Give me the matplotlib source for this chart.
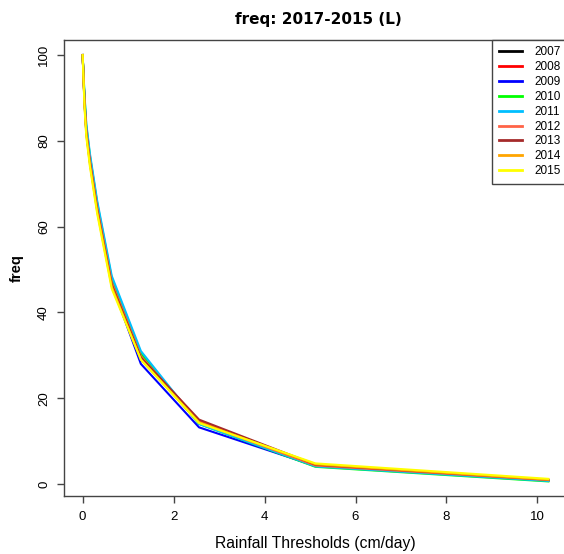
import matplotlib
matplotlib.use('Agg')
import matplotlib.pyplot as plt

# Rainfall thresholds (cm/day)
thresholds = [0, 0.04, 0.08, 0.16, 0.32, 0.64, 1.28, 2.56, 5.12, 10.24]

# freq per year
freq_2007 = [100, 89.5, 82.5, 75.5, 64.5, 47.0, 29.5, 14.2, 4.4, 0.9]
freq_2008 = [100, 89.5, 82.5, 75.5, 64.5, 47.0, 30.0, 14.6, 4.3, 0.8]
freq_2009 = [100, 89.0, 82.0, 75.0, 64.0, 46.5, 28.0, 13.2, 4.2, 0.8]
freq_2010 = [100, 90.5, 83.5, 76.5, 65.5, 48.0, 30.5, 14.0, 4.0, 0.6]
freq_2011 = [100, 91.0, 84.0, 77.0, 66.0, 48.5, 31.0, 14.0, 4.1, 0.7]
freq_2012 = [100, 89.5, 82.5, 75.5, 64.5, 47.0, 29.8, 14.4, 4.3, 0.9]
freq_2013 = [100, 89.0, 82.0, 75.0, 64.0, 46.5, 29.5, 15.0, 4.5, 1.0]
freq_2014 = [100, 88.5, 81.5, 74.5, 63.5, 46.0, 29.0, 14.4, 4.6, 1.0]
freq_2015 = [100, 88.0, 81.0, 74.0, 63.0, 45.5, 29.0, 14.2, 4.8, 1.2]

years = ['2007', '2008', '2009', '2010', '2011', '2012', '2013', '2014', '2015']
series = [freq_2007, freq_2008, freq_2009, freq_2010, freq_2011,
          freq_2012, freq_2013, freq_2014, freq_2015]
colors = ['black', 'red', 'blue', '#00ff00', '#00bfff',
          '#ff6347', '#a52a2a', '#ffa500', '#ffff00']

plt.rcParams['font.family'] = ['Liberation Sans', 'DejaVu Sans']

fig = plt.figure(figsize=(5.64, 5.54), dpi=100)
ax = fig.add_axes([64 / 564, 58 / 554, 503 / 564, 456 / 554])

for year, vals, c in zip(years, series, colors):
    ax.plot(thresholds, vals, color=c, lw=1.5, label=year)

ax.set_xlim(-0.41, 10.65)
ax.set_ylim(-2.8, 103.5)
ax.set_xticks([0, 2, 4, 6, 8, 10])
ax.set_yticks([0, 20, 40, 60, 80, 100])
ax.tick_params(axis='both', length=5, width=1, color='#444444', labelsize=9.5)
ax.tick_params(axis='x', pad=6)
ax.tick_params(axis='y', pad=5)
for lab in ax.get_yticklabels():
    lab.set_rotation(90)
    lab.set_va('center')
for sp in ax.spines.values():
    sp.set_color('#444444')
    sp.set_linewidth(1)

ax.set_xlabel('Rainfall Thresholds (cm/day)', fontsize=11.3, labelpad=9)
ax.set_ylabel('freq', fontsize=10.5, fontweight='bold', labelpad=10)
fig.text(318 / 564, 1 - 19.5 / 554, 'freq: 2017-2015 (L)', ha='center', va='center',
         fontsize=11, fontweight='bold', family=['DejaVu Sans'])

leg = ax.legend(loc='upper right', bbox_to_anchor=(1, 1), borderaxespad=0,
                fancybox=False, framealpha=1, edgecolor='#444444', fontsize=8.5,
                handlelength=2.0, handletextpad=1.0, labelspacing=0.24,
                borderpad=0.55)
leg.get_frame().set_linewidth(1)
for line in leg.get_lines():
    line.set_linewidth(2)

plt.savefig('out.png', dpi=100)
